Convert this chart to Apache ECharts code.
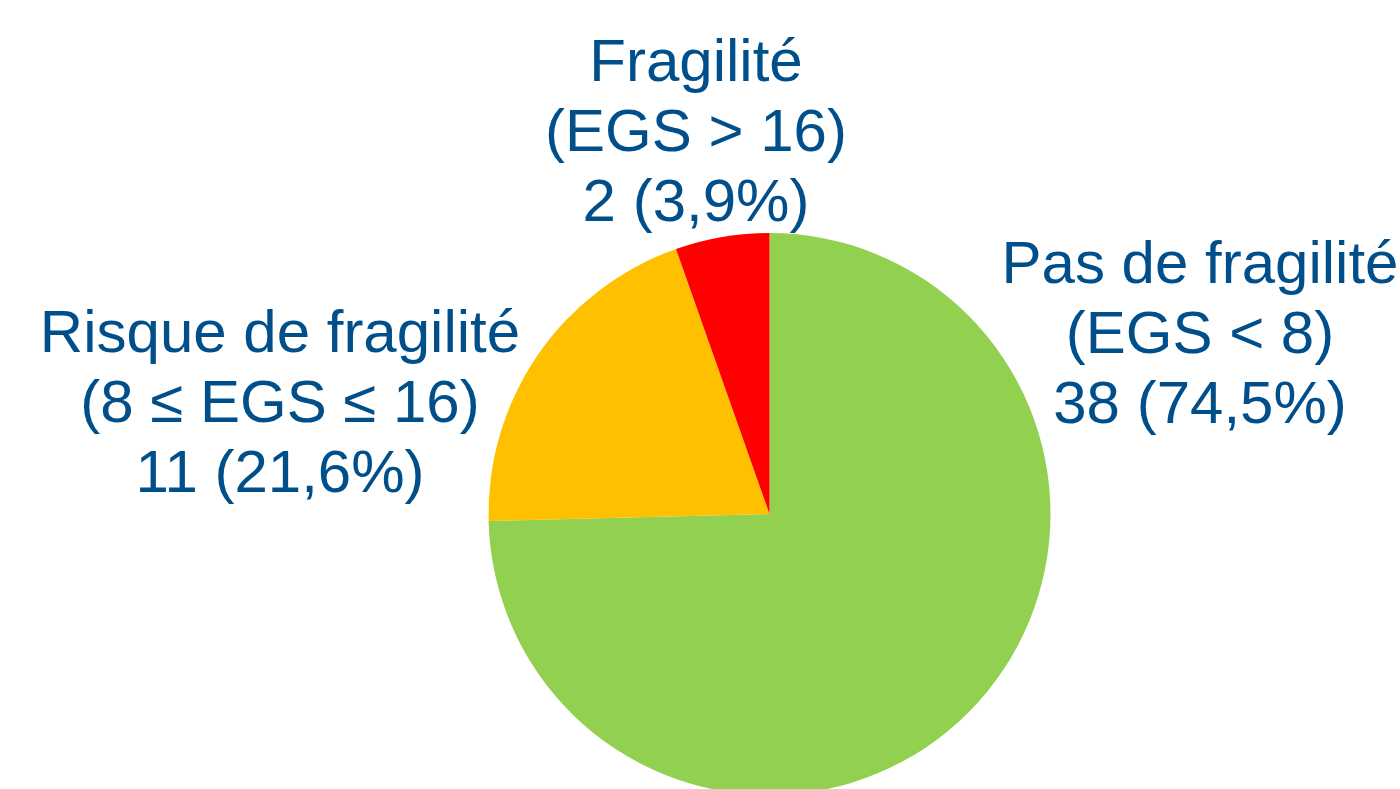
<!DOCTYPE html>
<html>
<head>
<meta charset="utf-8">
<script src="https://cdn.jsdelivr.net/npm/echarts@6/dist/echarts.min.js"></script>
<style>
html,body{margin:0;padding:0;background:#fff;}
#chart{width:1400px;height:789px;}
</style>
</head>
<body>
<div id="chart"></div>
<script>
// Categories (label lines) in drawing order, clockwise from 12 o'clock
const categoryNames = ['Pas de fragilité', 'Risque de fragilité', 'Fragilité'];
const categoryRanges = ['(EGS < 8)', '(8 ≤ EGS ≤ 16)', '(EGS > 16)'];
const counts = [38, 11, 2];
const percentLabels = ['74,5%', '21,6%', '3,9%'];
// Slice shares as drawn in the picture (angles measured)
const drawnShares = [74.6, 20.0, 5.4];
const colors = ['#92D050', '#FFC000', '#FF0000'];

// Label anchor positions (block centers)
const labelPos = [[1200, 336], [280, 405], [696, 134]];

const chart = echarts.init(document.getElementById('chart'), null, {renderer: 'canvas'});
const data = categoryNames.map((n, i) => ({
  name: n,
  value: drawnShares[i],
  itemStyle: {color: colors[i]}
}));

chart.setOption({
  animation: false,
  series: [{
    type: 'pie',
    center: [769.5, 514],
    radius: 281,
    startAngle: 90,
    clockwise: true,
    data: data,
    itemStyle: {borderWidth: 0},
    emphasis: {disabled: true},
    label: {
      show: true,
      position: 'outside',
      alignTo: 'none',
      overflow: 'none',
      width: 700,
      formatter: p => categoryNames[p.dataIndex] + '\n' + categoryRanges[p.dataIndex] + '\n' + counts[p.dataIndex] + ' (' + percentLabels[p.dataIndex] + ')',
      fontFamily: 'Liberation Sans, Arial, sans-serif',
      fontSize: 60,
      lineHeight: 70,
      color: '#004F8B',
      align: 'center'
    },
    labelLine: {show: false},
    labelLayout: function (params) {
      const p = labelPos[params.dataIndex];
      return {x: p[0], y: p[1], align: 'center', verticalAlign: 'middle', hideOverlap: false, moveOverlap: false};
    }
  }]
});
</script>
</body>
</html>
